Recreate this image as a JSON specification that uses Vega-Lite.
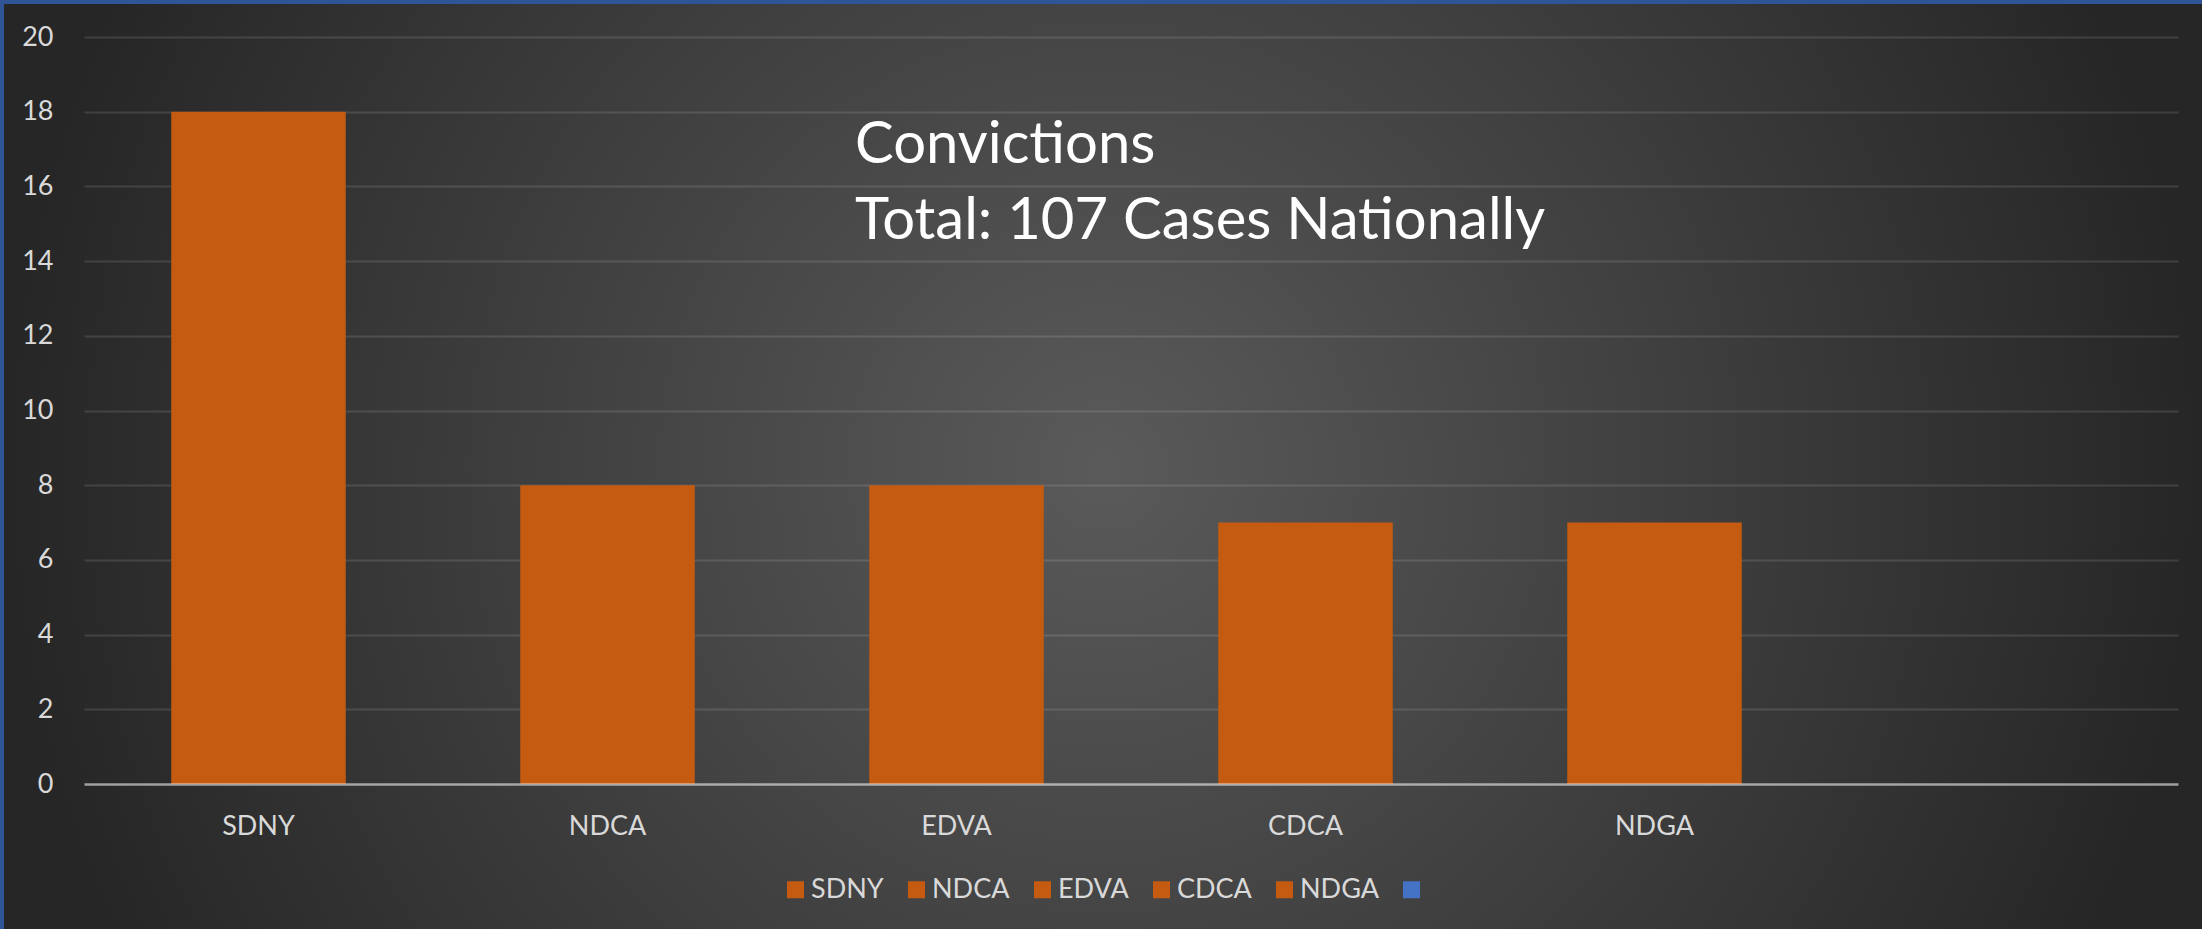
{
  "$schema": "https://vega.github.io/schema/vega-lite/v6.json",
  "width": 2198,
  "height": 925,
  "autosize": {"type": "none"},
  "padding": {"left": 4, "top": 4, "right": 0, "bottom": 0},
  "background": "#2F5597",
  "view": {
    "stroke": null,
    "fill": {
      "gradient": "radial",
      "x1": 0.5, "y1": 0.5, "r1": 0,
      "x2": 0.5, "y2": 0.5, "r2": 0.5,
      "stops": [
        {"offset": 0, "color": "#5a5a5a"},
        {"offset": 1, "color": "#262626"}
      ]
    }
  },
  "title": {
    "text": ["Convictions", "Total: 107 Cases Nationally"],
    "anchor": "start",
    "frame": "group",
    "orient": "top",
    "offset": 0,
    "dx": 851,
    "dy": 293,
    "align": "left",
    "baseline": "alphabetic",
    "lineHeight": 76,
    "font": "Lato",
    "fontSize": 58,
    "fontWeight": "normal",
    "color": "#ffffff"
  },
  "data": {
    "values": [
      {"district": "SDNY", "convictions": 18},
      {"district": "NDCA", "convictions": 8},
      {"district": "EDVA", "convictions": 8},
      {"district": "CDCA", "convictions": 7},
      {"district": "NDGA", "convictions": 7},
      {"district": " ", "convictions": null}
    ]
  },
  "mark": {"type": "bar"},
  "encoding": {
    "x": {
      "field": "district",
      "type": "nominal",
      "sort": null,
      "scale": {
        "domain": ["SDNY", "NDCA", "EDVA", "CDCA", "NDGA", " "],
        "range": [80, 2174],
        "paddingInner": 0.5,
        "paddingOuter": 0.25
      },
      "axis": {
        "orient": "bottom",
        "offset": -145,
        "title": null,
        "domain": true,
        "domainColor": "#ffffff",
        "domainOpacity": 0.5,
        "domainWidth": 2.5,
        "ticks": false,
        "tickSize": 0,
        "grid": false,
        "labelAngle": 0,
        "labelBaseline": "middle",
        "labelPadding": 42,
        "labelFont": "Lato",
        "labelFontSize": 27,
        "labelColor": "#d9d9d9",
        "zindex": 1
      }
    },
    "y": {
      "field": "convictions",
      "type": "quantitative",
      "scale": {"domain": [0, 20], "range": [780, 33], "nice": false, "zero": true},
      "axis": {
        "title": null,
        "values": [0, 2, 4, 6, 8, 10, 12, 14, 16, 18, 20],
        "offset": -80,
        "domain": false,
        "ticks": false,
        "tickSize": 0,
        "labelPadding": 31,
        "labelFont": "Lato",
        "labelFontSize": 27,
        "labelColor": "#d9d9d9",
        "grid": true,
        "gridColor": "#ffffff",
        "gridOpacity": 0.12,
        "gridWidth": 2
      }
    },
    "color": {
      "field": "district",
      "type": "nominal",
      "scale": {
        "domain": ["SDNY", "NDCA", "EDVA", "CDCA", "NDGA", " "],
        "range": ["#C55A11", "#C55A11", "#C55A11", "#C55A11", "#C55A11", "#4472C4"]
      },
      "legend": {
        "title": null,
        "orient": "none",
        "legendX": 778,
        "legendY": 872,
        "direction": "horizontal",
        "symbolType": "square",
        "symbolSize": 289,
        "symbolStrokeWidth": 0,
        "symbolOpacity": 1,
        "labelFont": "Lato",
        "labelFontSize": 27,
        "labelColor": "#d9d9d9",
        "labelOffset": 2,
        "columnPadding": 19,
        "padding": 0
      }
    }
  },
  "config": {"font": "Lato"}
}
